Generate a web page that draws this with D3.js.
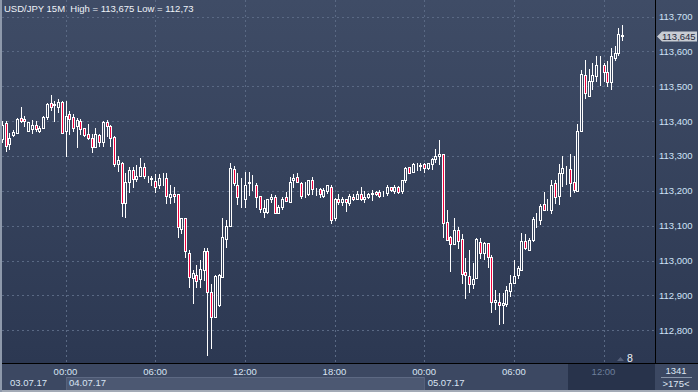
<!DOCTYPE html>
<html>
<head>
<meta charset="utf-8">
<script src="https://cdn.jsdelivr.net/npm/d3@7"></script>
<style>
  body { margin: 0; background: #2d3953; }
  text { font-family: "Liberation Sans", Arial, sans-serif; }
</style>
</head>
<body>
<div id="chart"></div>
<script>
// Chart Params
const svgWidth = 698;
const svgHeight = 392;
const plotRight = 655;
const plotBottom = 363;

// 15 minute candles, first one at 03.07.17 19:45
const startTime = Date.UTC(2017, 6, 3, 19, 45);
const step = 15 * 60 * 1000;

const opens = [
  113.350,113.395,113.333,113.359,113.367,113.408,113.406,113.371,113.376,113.388,
  113.371,113.381,113.412,113.452,113.445,113.441,113.454,113.371,113.421,113.412,
  113.386,113.400,113.381,113.362,113.352,113.326,113.359,113.340,113.398,113.386,
  113.355,113.278,113.281,113.164,113.226,113.260,113.233,113.243,113.267,113.240,
  113.233,113.227,113.216,113.237,113.236,113.183,113.190,113.190,113.090,113.121,
  113.021,112.949,112.960,112.946,112.973,113.028,112.911,112.837,112.873,112.954,
  113.061,113.100,113.262,113.217,113.176,113.177,113.222,113.224,113.217,113.185,
  113.140,113.140,113.176,113.181,113.136,113.155,113.183,113.169,113.231,113.241,
  113.222,113.190,113.190,113.231,113.204,113.205,113.185,113.200,113.210,113.121,
  113.176,113.169,113.176,113.164,113.183,113.176,113.190,113.176,113.183,113.190,
  113.198,113.198,113.193,113.195,113.210,113.200,113.210,113.200,113.231,113.269,
  113.255,113.274,113.273,113.277,113.265,113.276,113.290,113.300,113.305,113.110,
  113.067,113.048,113.088,113.061,112.966,112.956,112.933,112.951,113.054,113.021,
  113.051,113.011,112.881,112.882,112.872,112.874,112.912,112.936,112.960,112.974,
  113.056,113.030,113.058,113.110,113.116,113.163,113.150,113.144,113.223,113.185,
  113.251,113.262,113.263,113.225,113.199,113.373,113.533,113.473,113.516,113.530,
  113.555,113.562,113.540,113.511,113.581,113.595,113.648
];
const highs = [
  113.400,113.400,113.367,113.374,113.408,113.441,113.416,113.398,113.402,113.400,
  113.386,113.414,113.452,113.474,113.457,113.462,113.457,113.457,113.430,113.419,
  113.410,113.407,113.381,113.393,113.362,113.381,113.362,113.400,113.402,113.389,
  113.357,113.300,113.283,113.252,113.267,113.267,113.273,113.293,113.281,113.243,
  113.243,113.248,113.248,113.250,113.250,113.217,113.212,113.190,113.121,113.121,
  113.030,112.973,112.987,113.002,113.037,113.037,112.933,112.959,112.962,113.121,
  113.116,113.279,113.271,113.250,113.236,113.255,113.255,113.245,113.222,113.185,
  113.174,113.176,113.190,113.188,113.160,113.181,113.198,113.240,113.247,113.250,
  113.226,113.226,113.231,113.241,113.207,113.207,113.207,113.216,113.217,113.179,
  113.190,113.183,113.176,113.190,113.190,113.200,113.210,113.200,113.193,113.202,
  113.200,113.202,113.200,113.217,113.212,113.217,113.214,113.231,113.267,113.269,
  113.281,113.281,113.279,113.279,113.281,113.293,113.320,113.346,113.305,113.145,
  113.071,113.121,113.097,113.076,113.007,113.030,112.994,113.064,113.064,113.054,
  113.051,113.017,112.915,112.908,112.908,112.926,112.960,113.003,112.984,113.078,
  113.075,113.065,113.125,113.137,113.161,113.197,113.177,113.232,113.232,113.278,
  113.299,113.270,113.306,113.299,113.393,113.547,113.576,113.549,113.567,113.588,
  113.588,113.568,113.571,113.610,113.616,113.667,113.675
];
const lows = [
  113.340,113.314,113.319,113.357,113.365,113.398,113.386,113.371,113.365,113.371,
  113.370,113.379,113.405,113.433,113.400,113.426,113.365,113.300,113.362,113.371,
  113.326,113.362,113.357,113.348,113.312,113.326,113.330,113.330,113.357,113.329,
  113.271,113.257,113.129,113.124,113.197,113.211,113.229,113.243,113.238,113.224,
  113.216,113.197,113.209,113.217,113.164,113.164,113.169,113.069,113.078,113.009,
  112.925,112.879,112.925,112.925,112.944,112.730,112.748,112.837,112.870,112.954,
  113.040,113.100,113.217,113.162,113.155,113.155,113.188,113.203,113.153,113.140,
  113.126,113.136,113.169,113.136,113.136,113.147,113.172,113.169,113.212,113.224,
  113.179,113.183,113.188,113.190,113.188,113.183,113.183,113.193,113.107,113.116,
  113.162,113.159,113.143,113.159,113.174,113.176,113.174,113.169,113.179,113.174,
  113.188,113.183,113.186,113.188,113.200,113.195,113.195,113.195,113.224,113.250,
  113.255,113.260,113.260,113.255,113.262,113.262,113.284,113.276,113.069,113.059,
  112.971,113.048,113.035,112.935,112.892,112.911,112.920,112.951,113.007,113.004,
  112.982,112.853,112.861,112.817,112.822,112.869,112.898,112.936,112.950,112.974,
  113.032,113.030,113.055,113.097,113.106,113.144,113.144,113.137,113.165,113.163,
  113.213,113.221,113.185,113.196,113.199,113.373,113.466,113.473,113.493,113.514,
  113.504,113.514,113.500,113.492,113.576,113.591,113.633
];
const closes = [
  113.390,113.329,113.352,113.369,113.407,113.401,113.401,113.398,113.388,113.378,
  113.381,113.412,113.448,113.441,113.448,113.454,113.367,113.416,113.407,113.381,
  113.403,113.378,113.359,113.352,113.326,113.362,113.340,113.398,113.386,113.352,
  113.278,113.288,113.164,113.226,113.260,113.233,113.243,113.267,113.243,113.241,
  113.236,113.212,113.238,113.238,113.185,113.190,113.185,113.095,113.121,113.028,
  112.954,112.965,112.942,112.975,113.028,112.911,112.837,112.956,112.959,113.067,
  113.100,113.265,113.222,113.181,113.177,113.217,113.224,113.226,113.183,113.149,
  113.150,113.176,113.183,113.136,113.155,113.176,113.172,113.226,113.236,113.224,
  113.185,113.190,113.231,113.204,113.205,113.190,113.202,113.216,113.117,113.176,
  113.169,113.176,113.169,113.185,113.176,113.190,113.176,113.183,113.190,113.195,
  113.190,113.185,113.193,113.210,113.203,113.210,113.198,113.231,113.265,113.250,
  113.276,113.274,113.272,113.265,113.279,113.290,113.300,113.305,113.107,113.059,
  113.048,113.088,113.057,112.961,112.960,112.933,112.946,113.061,113.021,113.049,
  113.011,112.881,112.887,112.872,112.877,112.917,112.936,112.957,112.979,113.056,
  113.036,113.058,113.118,113.112,113.156,113.144,113.150,113.218,113.183,113.251,
  113.266,113.263,113.223,113.202,113.373,113.535,113.481,113.516,113.533,113.562,
  113.555,113.540,113.512,113.588,113.595,113.651,113.645
];

const priceTicks = [112.8, 112.9, 113.0, 113.1, 113.2, 113.3, 113.4, 113.5, 113.6, 113.7];
const timeTicks = [
  Date.UTC(2017, 6, 4, 0), Date.UTC(2017, 6, 4, 6), Date.UTC(2017, 6, 4, 12),
  Date.UTC(2017, 6, 4, 18), Date.UTC(2017, 6, 5, 0), Date.UTC(2017, 6, 5, 6),
  Date.UTC(2017, 6, 5, 12)
];
const dayLabels = ["03.07.17", "04.07.17", "05.07.17"];
const dayStarts = [Date.UTC(2017, 6, 3, 0), Date.UTC(2017, 6, 4, 0), Date.UTC(2017, 6, 5, 0)];
const lastPrice = 113.645;
const titleText = "USD/JPY 15M  High = 113,675 Low = 112,73";

// build candle rows from the arrays
const candles = opens.map((o, i) => ({
  time: new Date(startTime + i * step),
  open: o, high: highs[i], low: lows[i], close: closes[i]
}));

const fmtPrice = d => d3.format(".3f")(d).replace(".", ",");
const fmtTime = d3.utcFormat("%H:%M");

const svg = d3.select("#chart")
  .append("svg")
  .attr("width", svgWidth)
  .attr("height", svgHeight)
  .style("display", "block");

// background gradient in page units so candle bodies can reuse it
const grad = svg.append("defs").append("linearGradient")
  .attr("id", "bg")
  .attr("gradientUnits", "userSpaceOnUse")
  .attr("x1", 0).attr("y1", 0).attr("x2", 0).attr("y2", plotBottom);
grad.append("stop").attr("offset", "0%").attr("stop-color", "#3f4c66");
grad.append("stop").attr("offset", "100%").attr("stop-color", "#2c3852");

// scales
const xScale = d3.scaleUtc()
  .domain([timeTicks[0], timeTicks[6]])
  .range([65.5, 603.5]);
const yScale = d3.scaleLinear()
  .domain([112.8, 113.7])
  .range([330.3, 16.5]);

svg.append("rect")
  .attr("x", 0).attr("y", 0)
  .attr("width", svgWidth).attr("height", plotBottom)
  .attr("fill", "url(#bg)");

// grid
const grid = svg.append("g")
  .attr("stroke", "#5a6984")
  .attr("stroke-dasharray", "2,3")
  .attr("shape-rendering", "crispEdges");
grid.selectAll(".hgrid")
  .data(priceTicks)
  .enter()
  .append("line")
  .attr("x1", 2).attr("x2", plotRight)
  .attr("y1", d => Math.round(yScale(d)) + 0.5)
  .attr("y2", d => Math.round(yScale(d)) + 0.5);
grid.selectAll(".vgrid")
  .data(timeTicks)
  .enter()
  .append("line")
  .attr("y1", 0).attr("y2", plotBottom)
  .attr("x1", d => Math.round(xScale(d)) + 0.5)
  .attr("x2", d => Math.round(xScale(d)) + 0.5);

// candles
const px = d => Math.round(xScale(d.time));
const py = v => Math.round(yScale(v));
const candleGroup = svg.append("g").attr("shape-rendering", "crispEdges");

candleGroup.selectAll(".wick")
  .data(candles)
  .enter()
  .append("line")
  .attr("x1", d => px(d) + 0.5)
  .attr("x2", d => px(d) + 0.5)
  .attr("y1", d => py(d.high))
  .attr("y2", d => py(d.low) + 1)
  .attr("stroke", "#ffffff");

candleGroup.selectAll(".body")
  .data(candles)
  .enter()
  .append("rect")
  .attr("x", d => px(d) - 0.5)
  .attr("width", 2)
  .attr("y", d => py(Math.max(d.open, d.close)) + 0.5)
  .attr("height", d => Math.max(0, py(Math.min(d.open, d.close)) - py(Math.max(d.open, d.close))))
  .attr("fill", d => d.close < d.open ? "#f0003c" : "url(#bg)")
  .attr("stroke", "#ffffff");

// title
svg.append("text")
  .attr("x", 4).attr("y", 12)
  .attr("fill", "#eef2f8")
  .style("font-size", "9.5px")
  .style("white-space", "pre")
  .text(titleText);

// right axis panel
svg.append("line")
  .attr("x1", plotRight + 0.5).attr("x2", plotRight + 0.5)
  .attr("y1", 0).attr("y2", svgHeight)
  .attr("stroke", "#000");

svg.selectAll(".ylabel")
  .data(priceTicks)
  .enter()
  .append("text")
  .attr("x", 659)
  .attr("y", d => yScale(d) + 3.5)
  .attr("fill", "#cfe2f7")
  .style("font-size", "9.5px")
  .text(fmtPrice);

// last price marker
const ly = Math.round(yScale(lastPrice)) + 0.5;
svg.append("path")
  .attr("d", `M657,${ly} L662,${ly - 5} L697,${ly - 5} L697,${ly + 5} L662,${ly + 5} Z`)
  .attr("fill", "#c9cdd4");
svg.append("text")
  .attr("x", 662).attr("y", ly + 3.5)
  .attr("fill", "#23283a")
  .style("font-size", "9.5px")
  .text(fmtPrice(lastPrice));

// "8" marker near the bottom
svg.append("path")
  .attr("d", "M617,361 L620.5,357 L624,361 Z")
  .attr("fill", "#56617a");
svg.append("text")
  .attr("x", 627).attr("y", 361.5)
  .attr("fill", "#eef2f8")
  .style("font-size", "10.5px")
  .text("8");

// bottom time axis
const bottom = svg.append("g").attr("shape-rendering", "crispEdges");
bottom.append("rect")
  .attr("x", 0).attr("y", plotBottom)
  .attr("width", svgWidth).attr("height", svgHeight - plotBottom)
  .attr("fill", "#3c4862");
// lighter band for the full day
bottom.append("rect")
  .attr("x", Math.round(xScale(dayStarts[1])))
  .attr("y", 377)
  .attr("width", Math.round(xScale(dayStarts[2])) - Math.round(xScale(dayStarts[1])))
  .attr("height", 13)
  .attr("fill", "#4c5872");
bottom.append("line")
  .attr("x1", Math.round(xScale(dayStarts[1]))).attr("x2", Math.round(xScale(dayStarts[2])))
  .attr("y1", 377.5).attr("y2", 377.5)
  .attr("stroke", "#5d6983");
bottom.selectAll(".daysep")
  .data(dayStarts.slice(1))
  .enter()
  .append("line")
  .attr("x1", d => Math.round(xScale(d)) + 0.5)
  .attr("x2", d => Math.round(xScale(d)) + 0.5)
  .attr("y1", 377).attr("y2", 390)
  .attr("stroke", "#56627c");
// dark box at the right end of the time axis
bottom.append("rect")
  .attr("x", 568).attr("y", plotBottom + 1)
  .attr("width", plotRight - 568).attr("height", 26)
  .attr("fill", "#28334b");
bottom.append("line")
  .attr("x1", 0).attr("x2", svgWidth)
  .attr("y1", plotBottom + 0.5).attr("y2", plotBottom + 0.5)
  .attr("stroke", "#000");
bottom.append("rect")
  .attr("x", 0).attr("y", 390)
  .attr("width", svgWidth).attr("height", 2)
  .attr("fill", "#a3aab6");
svg.append("rect")
  .attr("x", 0).attr("y", 0)
  .attr("width", 2).attr("height", svgHeight)
  .attr("fill", "#8e99ab");

svg.selectAll(".xlabel")
  .data(timeTicks)
  .enter()
  .append("text")
  .attr("x", d => xScale(d))
  .attr("y", 375)
  .attr("text-anchor", "middle")
  .attr("fill", (d, i) => i === timeTicks.length - 1 ? "#6d7f9b" : "#d9e4f3")
  .style("font-size", "9.5px")
  .text(d => fmtTime(new Date(d)));

svg.selectAll(".daylabel")
  .data(dayLabels)
  .enter()
  .append("text")
  .attr("x", (d, i) => i === 0 ? 10 : xScale(dayStarts[i]) + 3.5)
  .attr("y", 386)
  .attr("fill", "#d9e4f3")
  .style("font-size", "9.5px")
  .text(d => d);

// bottom right corner
svg.append("text")
  .attr("x", 676).attr("y", 374)
  .attr("text-anchor", "middle")
  .attr("fill", "#dde6f2")
  .style("font-size", "9.5px")
  .text("1341");
svg.append("line")
  .attr("x1", 661).attr("x2", 692)
  .attr("y1", 377.5).attr("y2", 377.5)
  .attr("stroke", "#8a96aa");
svg.append("text")
  .attr("x", 676).attr("y", 387)
  .attr("text-anchor", "middle")
  .attr("fill", "#dde6f2")
  .style("font-size", "9.5px")
  .text(">175<");
</script>
</body>
</html>
